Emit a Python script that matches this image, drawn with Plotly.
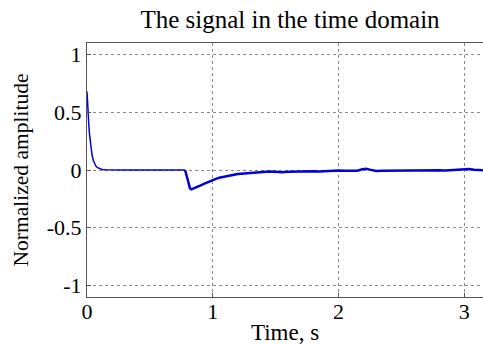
import plotly.graph_objects as go

# Early part (decay and flat section)
t_early = [0.0, 0.003, 0.006, 0.01, 0.015, 0.02, 0.025, 0.03, 0.04, 0.05, 0.06, 0.07,
           0.08, 0.10, 0.12, 0.15, 0.20, 0.30, 0.50, 0.70, 0.78]
a_early = [0.68, 0.60, 0.53, 0.46, 0.38, 0.31, 0.25, 0.20, 0.13, 0.085, 0.055, 0.035,
           0.022, 0.010, 0.005, 0.002, 0.0, 0.0, 0.0, 0.0, 0.0]

# Later part (dip and noisy recovery)
t_late = [0.78, 0.79, 0.80, 0.81, 0.82, 0.83, 0.85, 0.87, 0.90, 0.93, 0.96, 1.00,
          1.03, 1.06, 1.10, 1.13, 1.16, 1.20, 1.25, 1.30, 1.35, 1.40, 1.45, 1.50,
          1.55, 1.60, 1.65, 1.70, 1.75, 1.80, 1.85, 1.90, 1.95, 2.00, 2.05, 2.10,
          2.15, 2.19, 2.22, 2.25, 2.30, 2.35, 2.40, 2.45, 2.50, 2.55, 2.60, 2.65,
          2.70, 2.75, 2.80, 2.85, 2.90, 2.95, 3.00, 3.04, 3.08, 3.12, 3.15]
a_late = [0.0, -0.04, -0.09, -0.13, -0.16, -0.168, -0.16, -0.15, -0.135, -0.12, -0.105, -0.088,
          -0.075, -0.065, -0.055, -0.047, -0.040, -0.035, -0.030, -0.024, -0.020, -0.018, -0.012, -0.016,
          -0.020, -0.016, -0.014, -0.011, -0.015, -0.010, -0.012, -0.008, -0.010, -0.004, -0.006, -0.003,
          -0.006, 0.006, 0.011, 0.003, -0.008, -0.006, -0.005, -0.008, -0.004, -0.006, -0.003, -0.005,
          -0.002, -0.004, -0.002, -0.005, -0.002, -0.003, 0.004, 0.008, 0.002, -0.004, -0.002]

x_ticks = [0, 1, 2, 3]
y_ticks = [-1, -0.5, 0, 0.5, 1]
y_tick_labels = ["-1", "-0.5", "0", "0.5", "1"]

fig = go.Figure()
fig.add_trace(go.Scatter(x=t_early, y=a_early, mode="lines",
                         line=dict(color="#0000d8", width=1.5), showlegend=False))
fig.add_trace(go.Scatter(x=t_late, y=a_late, mode="lines",
                         line=dict(color="#0000d8", width=2.5), showlegend=False))

font = "Liberation Serif"
fig.update_layout(
    width=483, height=345,
    margin=dict(l=87, r=0, t=43, b=48),
    paper_bgcolor="white", plot_bgcolor="white",
    font=dict(family=font, color="black", size=22),
    title=dict(text="The signal in the time domain", x=290 / 483, xanchor="center",
               y=1 - 19 / 345, yanchor="middle", yref="container",
               font=dict(family=font, size=25, color="black")),
)
fig.update_xaxes(range=[0, 3.15], tickvals=x_ticks, ticktext=[str(v) for v in x_ticks],
                 showgrid=True, gridcolor="#8a8a8a", griddash="dot", gridwidth=1,
                 showline=True, linecolor="#555", linewidth=1, mirror=True,
                 ticks="inside", ticklen=4, tickcolor="#555", zeroline=False,
                 tickfont=dict(family=font, size=22), ticklabelstandoff=-5,
                 title=dict(text="Time, s", font=dict(family=font, size=23), standoff=0))
fig.update_yaxes(range=[-1.1, 1.1], tickvals=y_ticks, ticktext=y_tick_labels,
                 showgrid=True, gridcolor="#8a8a8a", griddash="dot", gridwidth=1,
                 showline=True, linecolor="#555", linewidth=1,
                 ticks="inside", ticklen=4, tickcolor="#555", zeroline=False,
                 tickfont=dict(family=font, size=22),
                 title=dict(text="Normalized amplitude", font=dict(family=font, size=21.5), standoff=12))

fig.write_html("out.html")
